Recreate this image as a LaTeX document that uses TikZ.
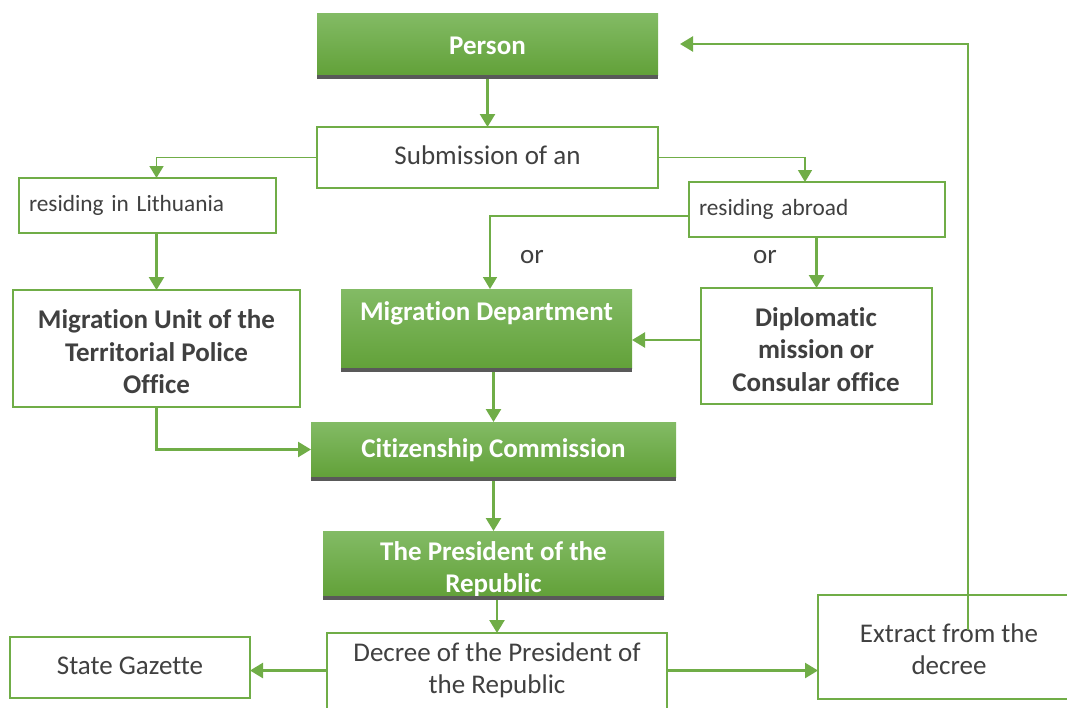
\documentclass[tikz,border=0pt]{standalone}
\usepackage{fontspec}
\setmainfont{Carlito}[Ligatures={NoCommon,NoContextual}]
\usetikzlibrary{arrows.meta,calc}
\definecolor{lgreen}{RGB}{112,173,71}
\definecolor{gtop}{RGB}{131,187,101}
\definecolor{gbot}{RGB}{98,161,57}
\definecolor{txt}{RGB}{64,64,64}
\definecolor{stripc}{RGB}{89,89,89}
\newcommand{\bigtxt}{\fontsize{27}{32.5}\selectfont}
\tikzset{
 wbox/.style={draw=lgreen, line width=2.5pt, fill=white, rectangle, inner sep=0pt, outer sep=0pt, align=center, text=txt, font=\bigtxt, anchor=north west},
 resbox/.style={wbox, inner xsep=10pt, align=left, font=\fontsize{23.3}{28}\selectfont},
 gbox/.style={rectangle, inner sep=0pt, outer sep=0pt, top color=gtop, bottom color=gbot, draw=none, anchor=north west},
 gtext/.style={text=white, align=center, font=\bfseries\bigtxt, inner sep=0pt},
 wtext/.style={text=txt, align=center, font=\bigtxt, inner sep=0pt},
 wtextb/.style={wtext, font=\bfseries\bigtxt},
 conn/.style={draw=lgreen, line width=2.5pt, -{Triangle[width=15pt,length=13pt]}},
 branch/.style={draw=lgreen, line width=1.6pt, -{Triangle[width=14pt,length=12pt]}},
 stripfill/.style={fill=stripc},
}
\begin{document}
\begin{tikzpicture}[x=1pt,y=-1pt]
\useasboundingbox (0,0) rectangle (1067,707);
\clip (0,0) rectangle (1067,707);

% green boxes
\node[gbox, minimum width=341pt, minimum height=62pt] (person) at (317,13) {};
\node[gtext] (personT) at (487.5,45.5) {Person};
\fill[stripfill] (person.south west) rectangle ([yshift=-4pt]person.south east);

\node[gbox, minimum width=291pt, minimum height=79pt] (mdept) at (341,289) {};
\node[gtext] (mdeptT) at (486.5,313.5) {Migration Department};
\fill[stripfill] (mdept.south west) rectangle ([yshift=-4pt]mdept.south east);

\node[gbox, minimum width=365pt, minimum height=55pt] (cit) at (311,422) {};
\node[gtext] (citT) at (493.5,450) {Citizenship Commission};
\fill[stripfill] (cit.south west) rectangle ([yshift=-4pt]cit.south east);

\node[gbox, minimum width=341pt, minimum height=65pt] (pres) at (323,531) {};
\begin{scope}
\clip (pres.south west) rectangle (pres.north east);
\node[gtext] (presT) at (493.5,569) {The President of the\\Republic};
\end{scope}
\fill[stripfill] (pres.south west) rectangle ([yshift=-4pt]pres.south east);

% white boxes
\node[wbox, minimum width=341pt, minimum height=61pt] (sub) at (317,127) {};
\node[wtext] (subT) at (487.5,155.5) {Submission of an};
\node[resbox, minimum width=257pt, minimum height=55pt, text width=237pt] (lith) at (19,178) {residing in Lithuania};
\node[resbox, minimum width=256pt, minimum height=55pt, text width=236pt] (abroad) at (689,182) {residing abroad};
\node[wbox, minimum width=287pt, minimum height=117pt] (mu) at (13,290) {};
\node[wtextb] (muT) at (156.5,352) {Migration Unit of the\\Territorial Police\\Office};
\node[wbox, minimum width=231pt, minimum height=116pt] (dip) at (701,288) {};
\node[wtextb] (dipT) at (816,349.5) {Diplomatic\\mission or\\Consular office};
\node[wbox, minimum width=340pt, minimum height=80pt] (decree) at (327,633) {};
\node[wtext] (decreeT) at (497,670.5) {Decree of the President of\\the Republic};
\node[wbox, minimum width=240pt, minimum height=61pt] (gazette) at (10,637) {};
\node[wtext] (gazetteT) at (130,665.5) {State Gazette};
\node[wbox, minimum width=262pt, minimum height=104pt] (extract) at (818,595) {};
\node[wtext] (extractT) at (949,649) {Extract from the\\decree};

\node[wtext] (or1) at (532,257) {or};
\node[wtext] (or2) at (765,257) {or};

% connectors
\draw[conn] ([yshift=-4pt]person.south) -- (sub.north);
\draw[branch] (sub.west) -| (lith.north -| mu.north);
\draw[branch] (sub.east) -| ([xshift=-12pt]abroad.north);
\draw[conn] (lith.south -| mu.north) -- (mu.north);
\draw[branch] ([yshift=-6.5pt]abroad.west) -| ([xshift=3.5pt]mdept.north);
\draw[conn] (abroad.south -| dip.north) -- (dip.north);
\draw[conn] ([yshift=6pt]dip.west) -- ([yshift=6pt]dip.west -| mdept.east);
\draw[conn] (mu.south) |- (cit.west);
\draw[conn] ([yshift=-4pt]mdept.south -| cit.north) -- (cit.north);
\draw[conn] ([yshift=-4pt]cit.south -| pres.north) -- (pres.north);
\draw[conn] ([yshift=-4pt]pres.south -| decree.north) -- (decree.north);
\draw[conn] (decreeT.west -| decree.west) -- (decreeT.west -| gazette.east);
\draw[conn] (decreeT.east -| decree.east) -- (decreeT.east -| extract.west);
\coordinate (ret) at ([xshift=19pt,yshift=17pt]extract.center);
\draw[conn] (ret) |- ([xshift=22pt]person.east);
\end{tikzpicture}
\end{document}
